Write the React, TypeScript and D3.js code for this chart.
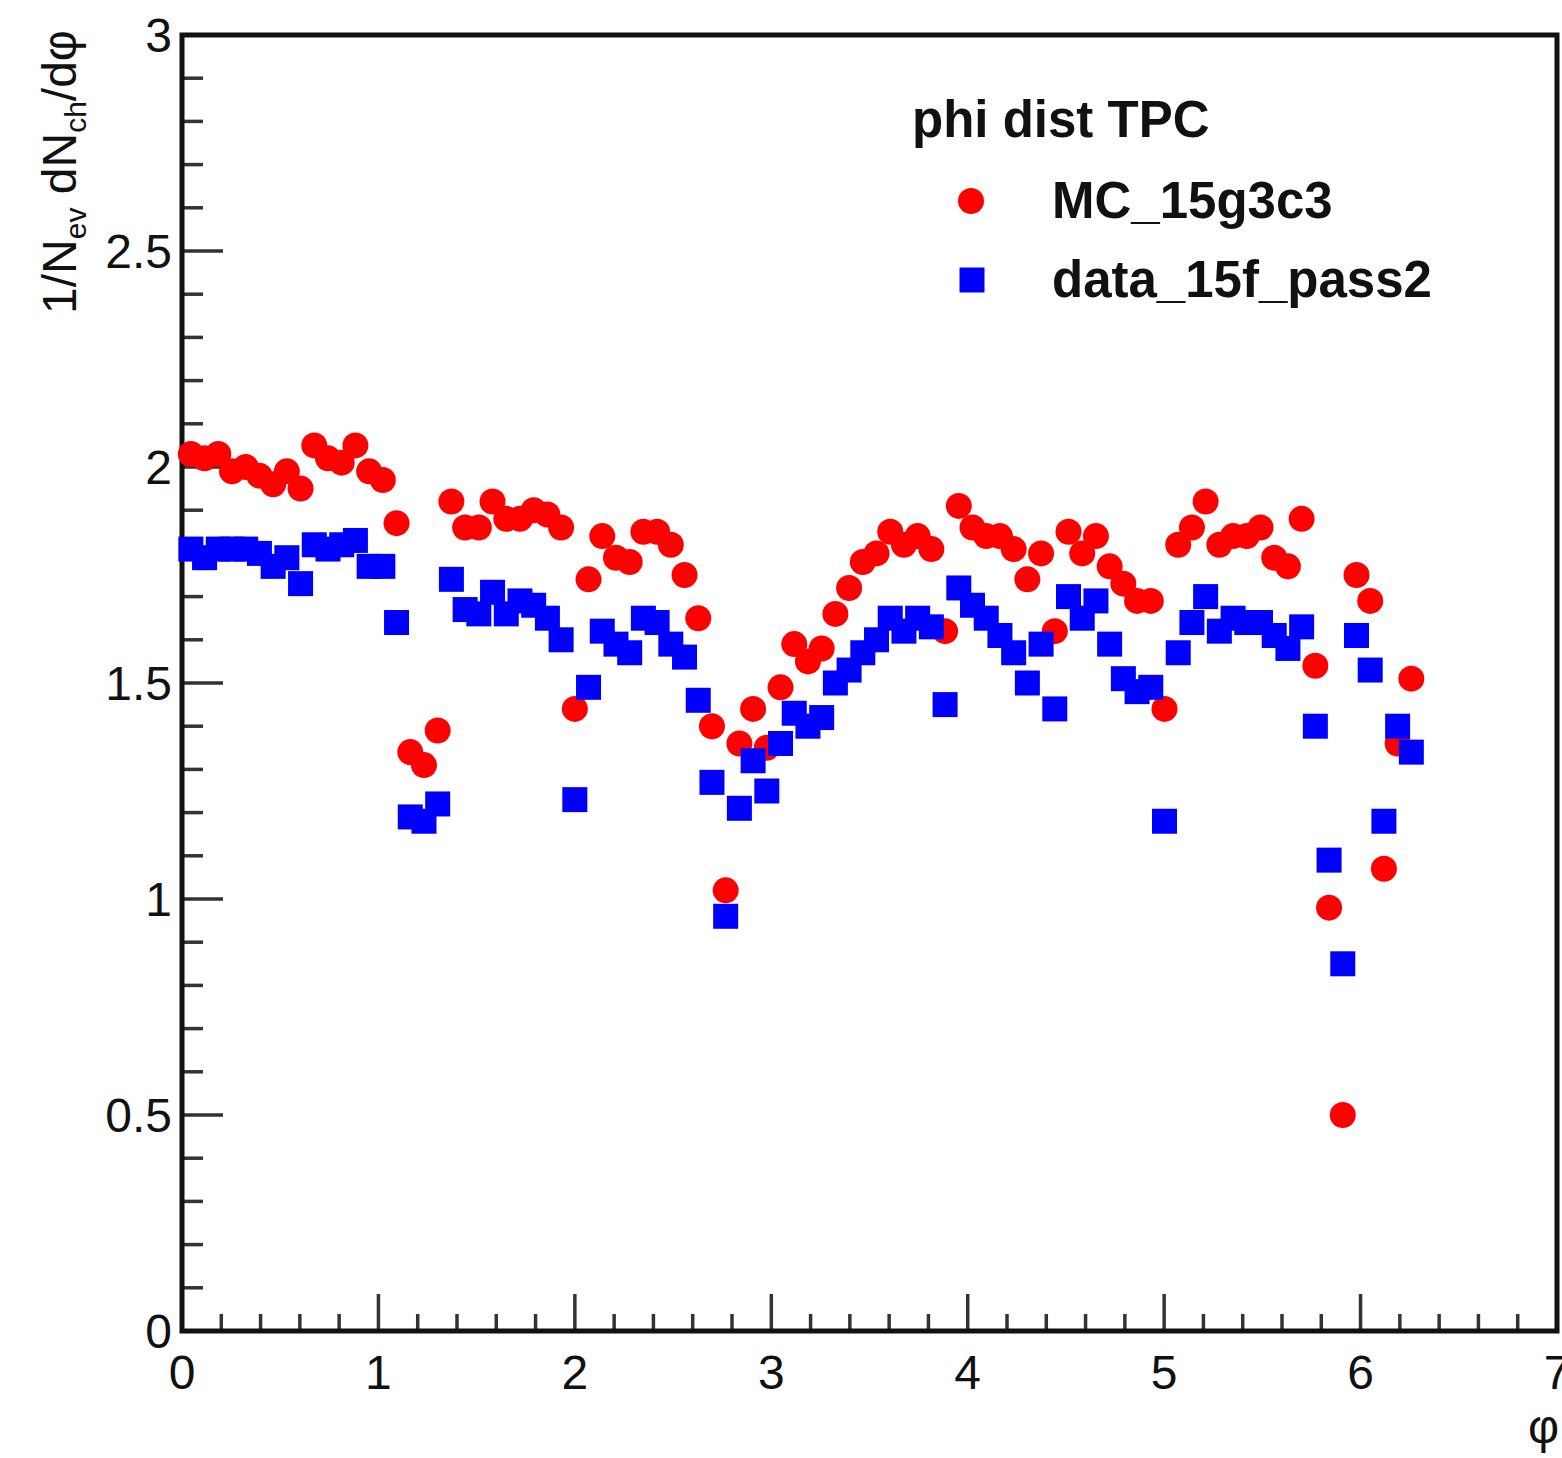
import React from 'react';
import * as d3 from 'd3';

const NBINS = 90;

// MC_15g3c3 (red circles), one value per phi bin
const mcValues = [
  2.03, 2.02, 2.03, 1.99, 2.00, 1.98, 1.96, 1.99, 1.95, 2.05,
  2.02, 2.01, 2.05, 1.99, 1.97, 1.87, 1.34, 1.31, 1.39, 1.92,
  1.86, 1.86, 1.92, 1.88, 1.88, 1.90, 1.89, 1.86, 1.44, 1.74,
  1.84, 1.79, 1.78, 1.85, 1.85, 1.82, 1.75, 1.65, 1.40, 1.02,
  1.36, 1.44, 1.35, 1.49, 1.59, 1.55, 1.58, 1.66, 1.72, 1.78,
  1.80, 1.85, 1.82, 1.84, 1.81, 1.62, 1.91, 1.86, 1.84, 1.84,
  1.81, 1.74, 1.80, 1.62, 1.85, 1.80, 1.84, 1.77, 1.73, 1.69,
  1.69, 1.44, 1.82, 1.86, 1.92, 1.82, 1.84, 1.84, 1.86, 1.79,
  1.77, 1.88, 1.54, 0.98, 0.50, 1.75, 1.69, 1.07, 1.36, 1.51,
];

// data_15f_pass2 (blue squares)
const dataValues = [
  1.81, 1.79, 1.81, 1.81, 1.81, 1.80, 1.77, 1.79, 1.73, 1.82,
  1.81, 1.82, 1.83, 1.77, 1.77, 1.64, 1.19, 1.18, 1.22, 1.74,
  1.67, 1.66, 1.71, 1.66, 1.69, 1.68, 1.65, 1.60, 1.23, 1.49,
  1.62, 1.59, 1.57, 1.65, 1.64, 1.59, 1.56, 1.46, 1.27, 0.96,
  1.21, 1.32, 1.25, 1.36, 1.43, 1.40, 1.42, 1.50, 1.53, 1.57,
  1.60, 1.65, 1.62, 1.65, 1.63, 1.45, 1.72, 1.68, 1.65, 1.61,
  1.57, 1.50, 1.59, 1.44, 1.70, 1.65, 1.69, 1.59, 1.51, 1.48,
  1.49, 1.18, 1.57, 1.64, 1.70, 1.62, 1.65, 1.64, 1.64, 1.61,
  1.58, 1.63, 1.40, 1.09, 0.85, 1.61, 1.53, 1.18, 1.40, 1.34,
];

const xTickValues = [0, 1, 2, 3, 4, 5, 6, 7];
const yTickValues = [0, 0.5, 1, 1.5, 2, 2.5, 3];

const legendTitle = 'phi dist TPC';
const seriesNames = ['MC_15g3c3', 'data_15f_pass2'];

const FONT = "'Liberation Sans', Arial, Helvetica, sans-serif";

export default function App() {
  const W = 1562;
  const H = 1458;
  const left = 182;
  const right = 1557;
  const top = 35;
  const bottom = 1331;

  const x = d3.scaleLinear().domain([0, 7]).range([left, right]);
  const y = d3.scaleLinear().domain([0, 3]).range([bottom, top]);
  const binW = (2 * Math.PI) / NBINS;
  const cx = (i: number) => x((i + 0.5) * binW) + 2;

  const xMinor = d3.range(0, 7.0001, 0.2).filter((v) => Math.abs(v - Math.round(v)) > 1e-6);
  const yMinor = d3.range(0, 3.0001, 0.1).filter((v) => Math.abs(v * 2 - Math.round(v * 2)) > 1e-6);

  const R = 13;
  const S = 25;
  const red = '#ff0000';
  const blue = '#0000ff';

  return (
    <svg
      width={W}
      height={H}
      viewBox={`0 0 ${W} ${H}`}
      style={{ position: 'absolute', left: 0, top: 0, background: '#fff' }}
      fontFamily={FONT}
    >
      <rect x={0} y={0} width={W} height={H} fill="#fff" />

      {/* ticks */}
      <g stroke="#333" strokeWidth={3.5}>
        {xTickValues.slice(1, -1).map((v) => (
          <line key={'xM' + v} x1={x(v)} x2={x(v)} y1={bottom} y2={bottom - 37} />
        ))}
        {xMinor.map((v) => (
          <line key={'xm' + v} x1={x(v)} x2={x(v)} y1={bottom} y2={bottom - 17} />
        ))}
        {yTickValues.slice(1, -1).map((v) => (
          <line key={'yM' + v} x1={left} x2={left + 41} y1={y(v)} y2={y(v)} />
        ))}
        {yMinor.map((v) => (
          <line key={'ym' + v} x1={left} x2={left + 21} y1={y(v)} y2={y(v)} />
        ))}
      </g>

      {/* frame */}
      <rect
        x={left}
        y={top}
        width={right - left}
        height={bottom - top}
        fill="none"
        stroke="#111"
        strokeWidth={5}
      />

      {/* tick labels */}
      <g fontSize={48} fill="#111">
        {xTickValues.map((v) => (
          <text key={'xl' + v} x={x(v)} y={1389} textAnchor="middle">
            {String(v)}
          </text>
        ))}
        {yTickValues.map((v) => (
          <text key={'yl' + v} x={172} y={y(v) + 17} textAnchor="end">
            {String(v)}
          </text>
        ))}
      </g>

      {/* axis titles */}
      <text x={1559} y={1443} textAnchor="end" fontSize={48} fill="#111">
        φ
      </text>
      <text
        transform={`translate(76, 30) rotate(-90)`}
        textAnchor="end"
        fontSize={48}
        fill="#111"
      >
        <tspan>1/N</tspan>
        <tspan fontSize={30} dy={10}>ev</tspan>
        <tspan dy={-10}> dN</tspan>
        <tspan fontSize={30} dy={10}>ch</tspan>
        <tspan dy={-10}>/dφ</tspan>
      </text>

      {/* MC series */}
      <g fill={red}>
        {mcValues.map((v, i) => (
          <circle key={'mc' + i} cx={cx(i)} cy={y(v)} r={R} />
        ))}
      </g>

      {/* data series */}
      <g fill={blue}>
        {dataValues.map((v, i) => (
          <rect key={'d' + i} x={cx(i) - S / 2} y={y(v) - S / 2} width={S} height={S} />
        ))}
      </g>

      {/* legend */}
      <g fontWeight="bold" fill="#111" fontSize={51}>
        <text x={912} y={137}>{legendTitle}</text>
        <circle cx={971} cy={201} r={R} fill={red} />
        <text x={1052} y={218}>{seriesNames[0]}</text>
        <rect x={972 - S / 2} y={280 - S / 2} width={S} height={S} fill={blue} />
        <text x={1052} y={297}>{seriesNames[1]}</text>
      </g>
    </svg>
  );
}
